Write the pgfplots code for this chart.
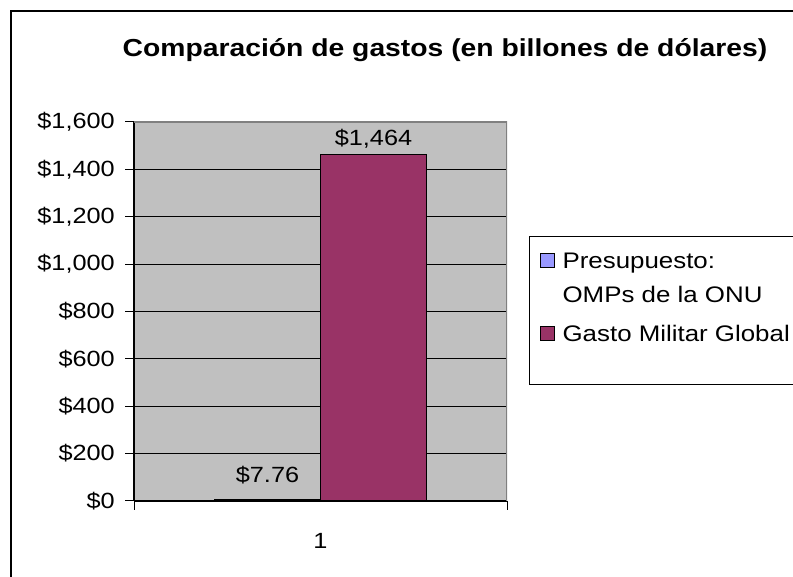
\documentclass[border=0pt]{standalone}
\usepackage{fontspec}
\setmainfont{Liberation Sans}
\newfontfamily\chartfont{Liberation Sans}[FakeStretch=1.15]
\usepackage{pgfplots}
\pgfplotsset{compat=1.18}

\definecolor{plotgray}{HTML}{C0C0C0}
\definecolor{bordergray}{HTML}{808080}
\definecolor{omp}{HTML}{9999FF}
\definecolor{militar}{HTML}{993366}

\begin{document}
\begin{tikzpicture}
  \useasboundingbox (0,0) rectangle (793pt,577pt);
  % marco exterior (sigue fuera de la imagen a la derecha y abajo)
  \draw[line width=2pt] (10.5pt,566pt) rectangle (1000pt,-100pt);

  \node[font=\chartfont\bfseries\fontsize{24.6}{30}\selectfont, anchor=base]
    at (445pt,520pt) {Comparación de gastos (en billones de dólares)};

  \begin{axis}[
    at={(134pt,76pt)}, anchor=south west,
    scale only axis, width=373pt, height=379pt,
    xmin=0.5, xmax=1.5, ymin=0, ymax=1600,
    xtick={1}, minor xtick={0.5,1.5},
    major x tick style={draw=none},
    ytick={0,200,...,1600},
    axis x line*=bottom, axis y line*=left,
    axis line style={-, black, line width=1.2pt},
    tick style={black, line width=1pt},
    tick align=outside,
    major tick length=9pt, minor tick length=9pt,
    ymajorgrids, major grid style={black, line width=1pt},
    axis background/.style={fill=plotgray},
    font=\chartfont\fontsize{22}{26}\selectfont,
    /pgf/number format/assume math mode=true,
    /pgf/number format/1000 sep={,},
    yticklabel={\$\pgfmathprintnumber{\tick}},
    yticklabel style={anchor=east, inner sep=0pt, xshift=-10pt},
    xticklabel style={anchor=base, inner sep=0pt, yshift=-39pt},
    ybar, bar width=106pt,
    point meta=explicit symbolic,
    legend style={
      at={(axis description cs:1.059,0.699)}, anchor=north west,
      draw=black, line width=1.2pt, fill=white,
      font=\chartfont\fontsize{22.5}{34}\selectfont,
      inner xsep=10pt, inner ysep=8.2pt,
      row sep=12.4pt, column sep=8pt,
      nodes={inner sep=0pt, text depth=},
      cells={anchor=base west},
    },
    legend image code/.code={
      \draw[#1, draw=black, line width=1pt] (0pt,1pt) rectangle (14pt,15pt);
    },
  ]
    \addplot[fill=omp, draw=black, line width=1pt, bar shift=-53pt,
      nodes near coords,
      every node near coord/.append style={anchor=base, yshift=17pt, inner sep=0pt}]
      coordinates {(1,7.76) [\$7.76]};
    \addlegendentry{\begin{tabular}[t]{@{}l@{}}Presupuesto:\\OMPs de la ONU\end{tabular}}

    \addplot[fill=militar, draw=black, line width=1pt, bar shift=53pt,
      nodes near coords,
      every node near coord/.append style={anchor=base, yshift=9pt, inner sep=0pt}]
      coordinates {(1,1464) [\$1,464]};
    \addlegendentry{Gasto Militar Global\hspace{12pt}\rule[-35pt]{0pt}{0pt}}

    \draw[bordergray, line width=1.2pt]
      (rel axis cs:0,1) -- (rel axis cs:1,1) -- (rel axis cs:1,0);
  \end{axis}
\end{tikzpicture}
\end{document}
